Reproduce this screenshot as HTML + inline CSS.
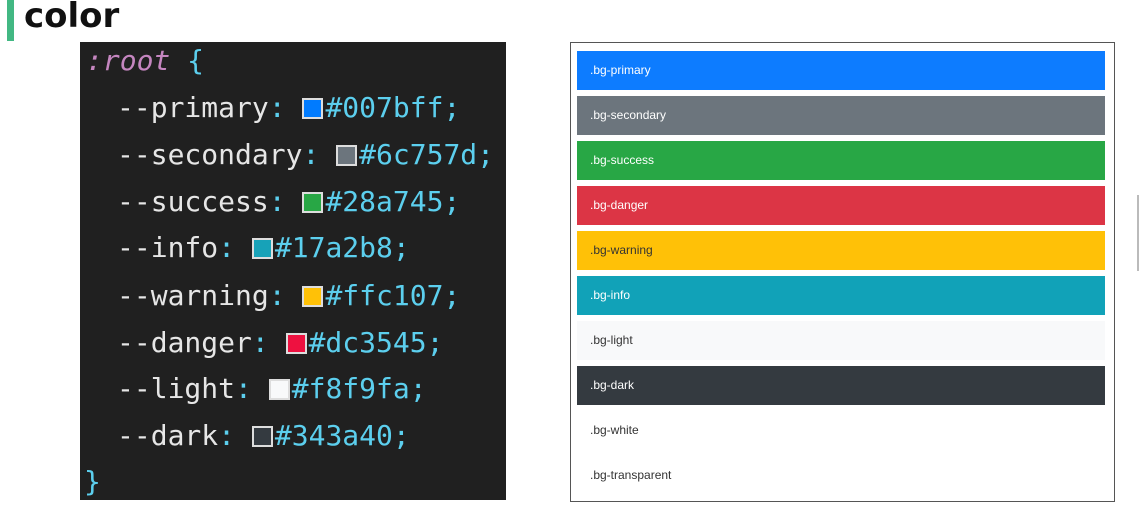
<!DOCTYPE html>
<html><head><meta charset="utf-8"><style>
*{margin:0;padding:0;box-sizing:border-box}
body{width:1140px;height:532px;background:#fff;position:relative;overflow:hidden;font-family:"Liberation Sans",sans-serif}
.gbar{position:absolute;left:7px;top:0;width:7px;height:41px;background:#42b883}
.title{position:absolute;left:24px;top:-4px;font-size:34px;font-weight:bold;color:#111;font-family:"DejaVu Sans","Liberation Sans",sans-serif}
.code{position:absolute;left:80px;top:42px;width:426px;height:458px;background:#202020;font-family:"DejaVu Sans Mono","Liberation Mono",monospace;font-size:28px;color:#e6e6e6}
.ln{position:absolute;left:37px;height:34px;line-height:34px;white-space:pre}
.c{color:#5ccfee}.p{color:#c586c0;font-style:italic}
.sw{display:inline-block;width:21px;height:21px;border:2px solid #ddd;vertical-align:-2px;margin-right:2px}
.panel{position:absolute;left:570px;top:42px;width:545px;height:460px;border:1px solid #555}
.bar{position:absolute;left:6px;width:528px;height:39px;font-size:12px;line-height:39px;padding-left:13px;color:#fff}
.edge{position:absolute;left:1137px;top:195px;width:2px;height:76px;background:#bbb}
</style></head><body>
<div class="gbar"></div><div class="title">color</div>
<div class="code">
<div class="ln" style="left:6px;top:2px"><span class="p">:root</span> <span class="c">{</span></div>
<div class="ln" style="top:49px">--primary<span class="c">:</span> <span class="sw" style="background:#007bff"></span><span class="c">#007bff;</span></div>
<div class="ln" style="top:96px">--secondary<span class="c">:</span> <span class="sw" style="background:#6c757d"></span><span class="c">#6c757d;</span></div>
<div class="ln" style="top:143px">--success<span class="c">:</span> <span class="sw" style="background:#28a745"></span><span class="c">#28a745;</span></div>
<div class="ln" style="top:189px">--info<span class="c">:</span> <span class="sw" style="background:#17a2b8"></span><span class="c">#17a2b8;</span></div>
<div class="ln" style="top:237px">--warning<span class="c">:</span> <span class="sw" style="background:#ffc107"></span><span class="c">#ffc107;</span></div>
<div class="ln" style="top:284px">--danger<span class="c">:</span> <span class="sw" style="background:#ee1140"></span><span class="c">#dc3545;</span></div>
<div class="ln" style="top:330px">--light<span class="c">:</span> <span class="sw" style="background:#f8f9fa"></span><span class="c">#f8f9fa;</span></div>
<div class="ln" style="top:377px">--dark<span class="c">:</span> <span class="sw" style="background:#343a40"></span><span class="c">#343a40;</span></div>
<div class="ln c" style="left:4px;top:423px">}</div>
</div>
<div class="panel">
<div class="bar" style="top:8px;background:#0d7cff">.bg-primary</div>
<div class="bar" style="top:53px;background:#6c757d">.bg-secondary</div>
<div class="bar" style="top:98px;background:#28a745">.bg-success</div>
<div class="bar" style="top:143px;background:#dc3545">.bg-danger</div>
<div class="bar" style="top:188px;background:#ffc107;color:#333">.bg-warning</div>
<div class="bar" style="top:233px;background:#11a2b8">.bg-info</div>
<div class="bar" style="top:278px;background:#f8f9fa;color:#333">.bg-light</div>
<div class="bar" style="top:323px;background:#343a40">.bg-dark</div>
<div class="bar" style="top:368px;background:#fff;color:#333">.bg-white</div>
<div class="bar" style="top:413px;background:#fff;color:#333">.bg-transparent</div>
</div>
<div class="edge"></div>
</body></html>
